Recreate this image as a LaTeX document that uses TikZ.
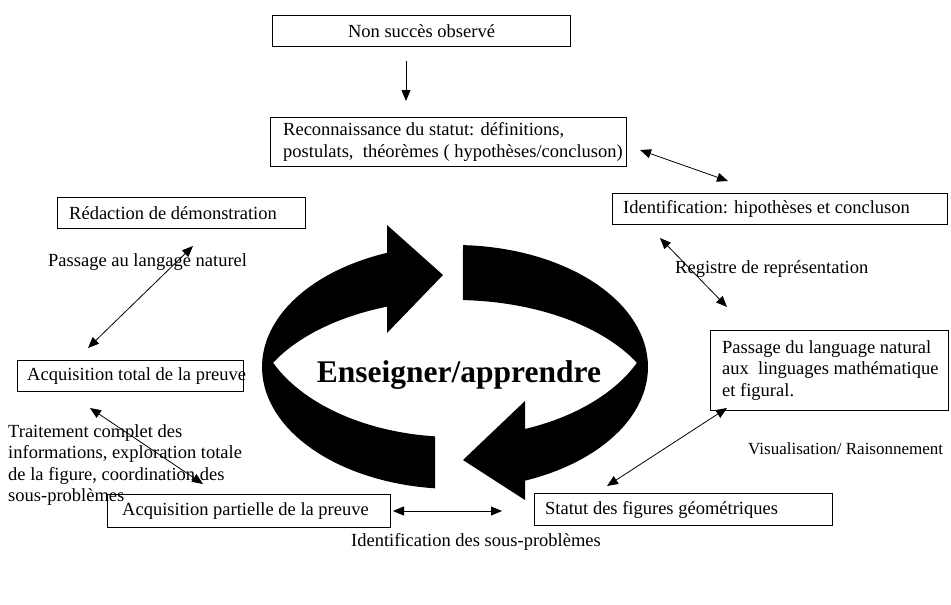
\documentclass[tikz,border=0pt]{standalone}
\usepackage{fontspec}
\setmainfont{Liberation Serif}
\usetikzlibrary{arrows.meta}
\begin{document}
\begin{tikzpicture}[x=1pt,y=-1pt,
  every node/.style={font=\fontsize{18.5}{21.5}\selectfont, inner sep=0pt},
  frame/.style={draw, line width=1pt, anchor=north west, minimum width=#1},
  lbl/.style={anchor=west, align=left},
  dbl/.style={{Triangle[length=11pt,width=9pt]}-{Triangle[length=11pt,width=9pt]}, line width=0.8pt},
  sgl/.style={-{Triangle[length=11pt,width=9pt]}, line width=0.8pt}]
\useasboundingbox (0,0) rectangle (951,605);

% boxes
\node[frame=298, minimum height=31] (n1) at (272,15) {};
\node (n1t) at (n1.center) {Non succès observé};

\node[frame=356, minimum height=49] (n2) at (270,117) {};
\node[lbl] (n2t) at ([xshift=13]n2.west) {Reconnaissance du statut: définitions,\\postulats,\ \ théorèmes ( hypothèses/concluson)};

\node[frame=335, minimum height=31] (n3) at (612,193) {};
\node[lbl] (n3t) at ([xshift=11]n3.west) {Identification: hipothèses et concluson};

\node[frame=248, minimum height=31] (n4) at (57,197) {};
\node[lbl] (n4t) at ([xshift=12]n4.west) {Rédaction de démonstration};

\node[frame=226, minimum height=31] (n5) at (17,360) {};
\node[lbl] (n5t) at ([xshift=10]n5.west) {Acquisition total de la preuve};

\node[frame=238, minimum height=80] (n6) at (710,330) {};
\node[lbl] (n6t) at ([xshift=12]n6.west) {Passage du language natural\\aux\ \ linguages mathématique\\et figural.};

\node[frame=298, minimum height=32] (n7) at (534,493) {};
\node[lbl] (n7t) at ([xshift=11]n7.west) {Statut des figures géométriques};

\node[frame=283, minimum height=33] (n8) at (107,494) {};
\node[lbl] (n8t) at ([xshift=15]n8.west) {Acquisition partielle de la preuve};

% labels
\node[lbl] (l1) at (48,262) {Passage au langage naturel};
\node[lbl] (l2) at (675,269) {Registre de représentation};
\node[lbl, font=\fontsize{17}{20}\selectfont] (l3) at (748,449) {Visualisation/ Raisonnement};
\node[anchor=north west, align=left] (l4) at (8,424) {Traitement complet des\\informations, exploration totale\\de la figure, coordination des\\sous-problèmes};
\node (l5) at (476,542) {Identification des sous-problèmes};

% arrow end points
\coordinate (a1s) at (406,61);
\coordinate (a1e) at (406,101);
\coordinate (a2s) at (640,150);
\coordinate (a2e) at (728,181);
\coordinate (a3s) at (660,238);
\coordinate (a3e) at (727,307);
\coordinate (a4s) at (193,246);
\coordinate (a4e) at (88,348);
\coordinate (a5s) at (90,408);
\coordinate (a5e) at (203,484);
\coordinate (a6s) at (393,511);
\coordinate (a6e) at (502,511);
\coordinate (a7s) at (607,486);
\coordinate (a7e) at (727,408);

\draw[sgl] (a1s) -- (a1e);
\draw[dbl] (a2s) -- (a2e);
\draw[dbl] (a3s) -- (a3e);
\draw[dbl] (a4s) -- (a4e);
\draw[dbl] (a5s) -- (a5e);
\draw[dbl] (a6s) -- (a6e);
\draw[dbl] (a7s) -- (a7e);

% circular arrows
\fill[black] (435,488)
  -- plot[domain=96:249.4, samples=60, variable=\t] ({455+193*cos(\t)},{367+122*sin(\t)})
  -- (387,225) -- (443,275) -- (387,333) -- (387,307)
  -- plot[domain=250.8:208.4, samples=40, variable=\t] ({455+207*cos(\t)},{420+120*sin(\t)})
  -- plot[domain=155.4:95.7, samples=40, variable=\t] ({455+200*cos(\t)},{310+127*sin(\t)})
  -- cycle;
\fill[black] (463,245)
  -- plot[domain=-87.6:68.7, samples=60, variable=\t] ({455+193*cos(\t)},{367+122*sin(\t)})
  -- (525,500) -- (463,460) -- (525,401) -- (525,429)
  -- plot[domain=69.5:24.5, samples=40, variable=\t] ({455+200*cos(\t)},{310+127*sin(\t)})
  -- plot[domain=-28.4:-87.8, samples=40, variable=\t] ({455+207*cos(\t)},{420+120*sin(\t)})
  -- cycle;

\node[font=\fontsize{31.5}{36}\selectfont\bfseries] (c) at (459,375) {Enseigner/apprendre};
\end{tikzpicture}
\end{document}
